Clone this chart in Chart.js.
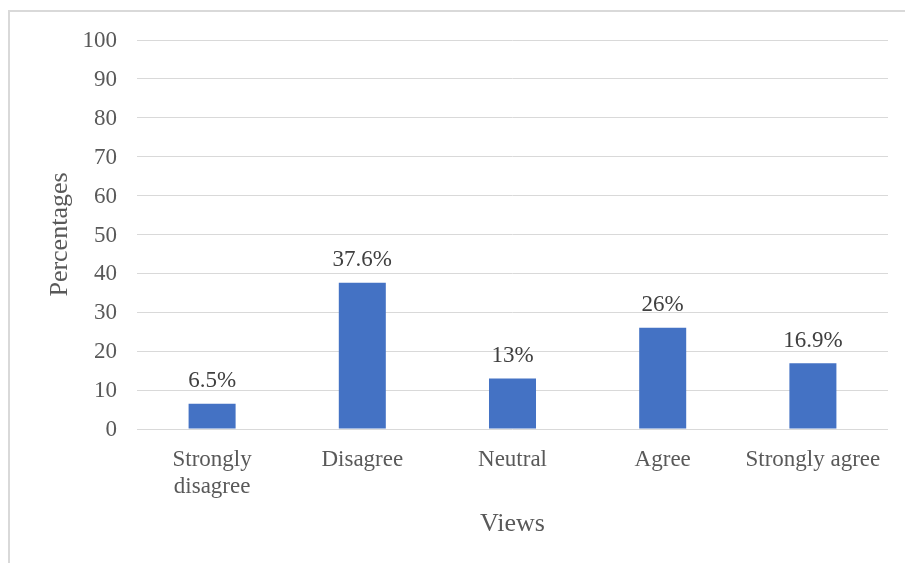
<!DOCTYPE html>
<html>
<head>
<meta charset="utf-8">
<script src="https://cdn.jsdelivr.net/npm/chart.js@4/dist/chart.umd.min.js"></script>
<style>
  html, body { margin: 0; padding: 0; background: #ffffff; overflow: hidden; }
  #frame { position: absolute; left: 8px; top: 10px; width: 1000px; height: 1000px; border: 2px solid #d9d9d9; box-sizing: border-box; }
  #wrap { position: absolute; left: 0; top: 0; width: 905px; height: 563px; }
</style>
</head>
<body>
<div id="frame"></div>
<div id="wrap"><canvas id="c" width="905" height="563"></canvas></div>
<script>
const categories = [["Strongly", "disagree"], "Disagree", "Neutral", "Agree", "Strongly agree"];
const percentages = [6.5, 37.6, 13, 26, 16.9];
const valueLabels = ["6.5%", "37.6%", "13%", "26%", "16.9%"];
const yTicks = [0, 10, 20, 30, 40, 50, 60, 70, 80, 90, 100];

const FONT = "'Liberation Serif', 'Times New Roman', serif";

const dataLabelPlugin = {
  id: 'dataLabels',
  afterDatasetsDraw(chart) {
    const ctx = chart.ctx;
    const meta = chart.getDatasetMeta(0);
    ctx.save();
    ctx.font = "23px " + FONT;
    ctx.fillStyle = "#404040";
    ctx.textAlign = "center";
    ctx.textBaseline = "alphabetic";
    meta.data.forEach((bar, i) => {
      ctx.fillText(valueLabels[i], bar.x, bar.y - 16.5);
    });
    ctx.restore();
  }
};

new Chart(document.getElementById('c'), {
  type: 'bar',
  data: {
    labels: categories,
    datasets: [{
      data: percentages,
      backgroundColor: '#4472C4',
      borderWidth: 0,
      barPercentage: 0.313,
      categoryPercentage: 1.0
    }]
  },
  options: {
    responsive: false,
    animation: false,
    devicePixelRatio: 1,
    layout: { padding: { top: 40, right: 17, bottom: 0, left: 0 } },
    plugins: { legend: { display: false }, tooltip: { enabled: false } },
    scales: {
      x: {
        grid: { display: false, drawTicks: false },
        border: { display: false },
        ticks: {
          color: '#595959',
          font: { family: FONT, size: 23, lineHeight: 1.2 },
          padding: 17,
          maxRotation: 0,
          autoSkip: false
        },
        title: {
          display: true,
          text: 'Views',
          color: '#595959',
          font: { family: FONT, size: 26, lineHeight: 1.2 },
          padding: { top: 0, bottom: 23 }
        },
        afterFit(scale) { scale.height = 134; }
      },
      y: {
        min: 0,
        max: 100,
        afterBuildTicks(scale) { scale.ticks = yTicks.map(v => ({ value: v })); },
        grid: { color: '#d9d9d9', lineWidth: 1, drawTicks: false },
        border: { display: false },
        ticks: {
          color: '#595959',
          font: { family: FONT, size: 23 },
          padding: 20,
          labelOffset: 1
        },
        title: {
          display: true,
          text: 'Percentages',
          color: '#595959',
          font: { family: FONT, size: 26, lineHeight: 1.2 },
          padding: { top: 45, bottom: 0 }
        },
        afterFit(scale) { scale.width = 137; }
      }
    }
  },
  plugins: [dataLabelPlugin]
});
</script>
</body>
</html>
